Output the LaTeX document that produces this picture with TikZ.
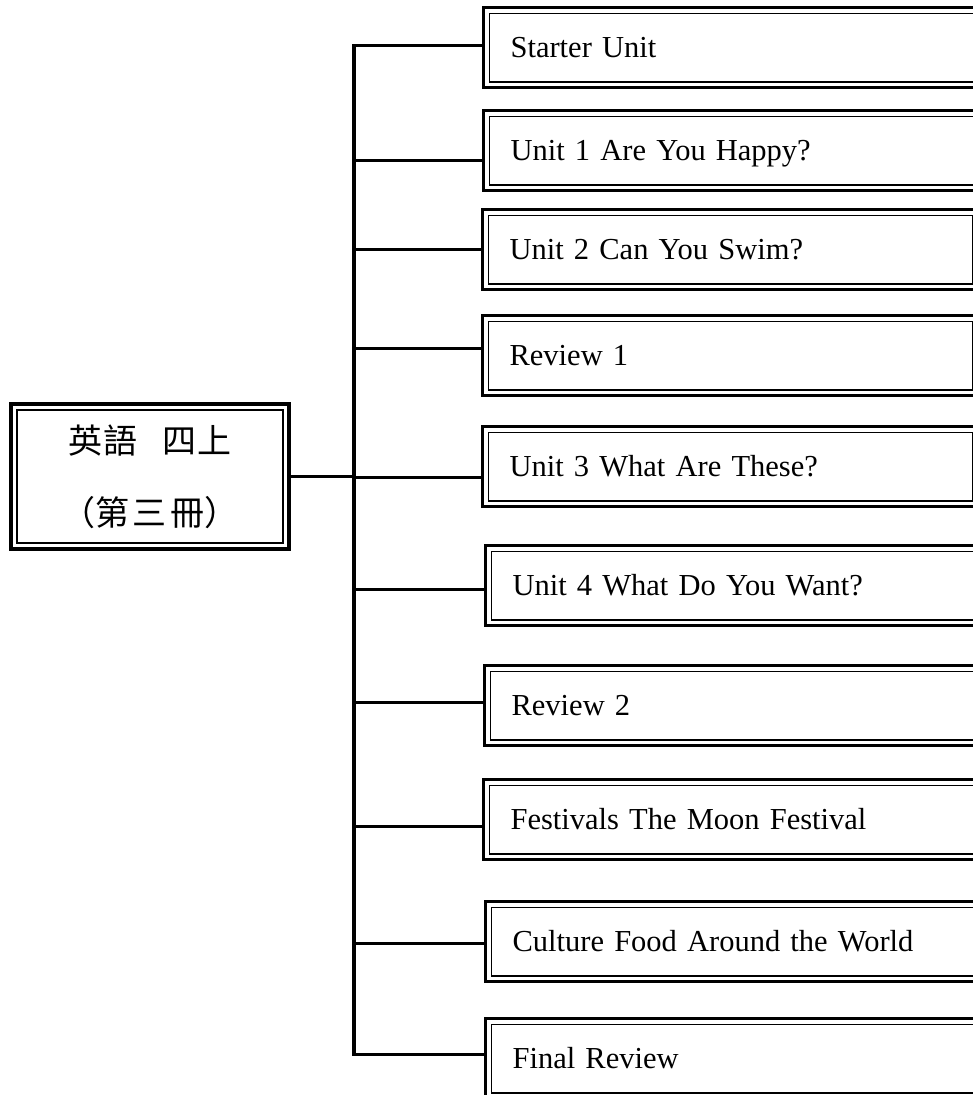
\documentclass[tikz,border=0pt]{standalone}
\usepackage{fontspec}
\setmainfont{Liberation Serif}
\newfontfamily\cjk{Noto Sans CJK TC}
\newcommand\cbox[2]{\makebox[#1pt][c]{#2}}
\tikzset{
  dblbox/.style={draw, line width=3.2pt, inner ysep=0pt,
    path picture={\draw[line width=1.8pt]
      ([shift={(5.8pt,-5.8pt)}]path picture bounding box.north west) rectangle
      ([shift={(-5.8pt,5.8pt)}]path picture bounding box.south east);}},
  unitbox/.style={dblbox, anchor=north west, minimum height=80pt,
    text width=442pt, inner xsep=27pt, align=left,
    text height=20pt, text depth=0pt,
    font=\fontsize{30.5}{37}\selectfont},
  conn/.style={line width=3.4pt},
}
\begin{document}
\begin{tikzpicture}[x=1pt,y=-1pt]
\clip (0,0) rectangle (973,1095);
\fill[white] (0,0) rectangle (973,1095);

\node[dblbox, minimum width=278pt, minimum height=145pt, align=center,
  font=\cjk\fontsize{34}{72}\selectfont] (main) at (150,476.5)
  {\cbox{35}{英}\cbox{35}{語}\hspace{24pt}\cbox{35}{四}\cbox{35}{上}\\
   \cbox{30}{（}\cbox{37}{第}\cbox{38}{三}\cbox{38}{冊}\cbox{30}{）}};

\node[unitbox] (s)  at (482,6)    {Starter Unit};
\node[unitbox] (u1) at (482,109)  {Unit 1 Are You Happy?};
\node[unitbox] (u2) at (481,208)  {Unit 2 Can You Swim?};
\node[unitbox] (r1) at (481,314)  {Review 1};
\node[unitbox] (u3) at (481,425)  {Unit 3 What Are These?};
\node[unitbox] (u4) at (484,544)  {Unit 4 What Do You Want?};
\node[unitbox] (r2) at (483,664)  {Review 2};
\node[unitbox] (fe) at (482,778)  {Festivals The Moon Festival};
\node[unitbox] (cu) at (484,900)  {Culture Food Around the World};
\node[unitbox] (fi) at (484,1017) {Final Review};

\coordinate (trunk) at (354,476);

\draw[conn] ([yshift=2pt]s.west) -| (trunk) |- ([yshift=4pt]fi.west);
\draw[conn] (main.east) -- (main.east -| trunk);
\draw[conn] ([yshift=-10pt]u1.west) -- ([yshift=-10pt]u1.west -| trunk);
\draw[conn] (u2.west) -- (u2.west -| trunk);
\draw[conn] ([yshift=7pt]r1.west) -- ([yshift=7pt]r1.west -| trunk);
\draw[conn] ([yshift=-11pt]u3.west) -- ([yshift=-11pt]u3.west -| trunk);
\draw[conn] ([yshift=-4pt]u4.west) -- ([yshift=-4pt]u4.west -| trunk);
\draw[conn] ([yshift=3pt]r2.west) -- ([yshift=3pt]r2.west -| trunk);
\draw[conn] ([yshift=-7pt]fe.west) -- ([yshift=-7pt]fe.west -| trunk);
\draw[conn] ([yshift=-2pt]cu.west) -- ([yshift=-2pt]cu.west -| trunk);
\end{tikzpicture}
\end{document}
